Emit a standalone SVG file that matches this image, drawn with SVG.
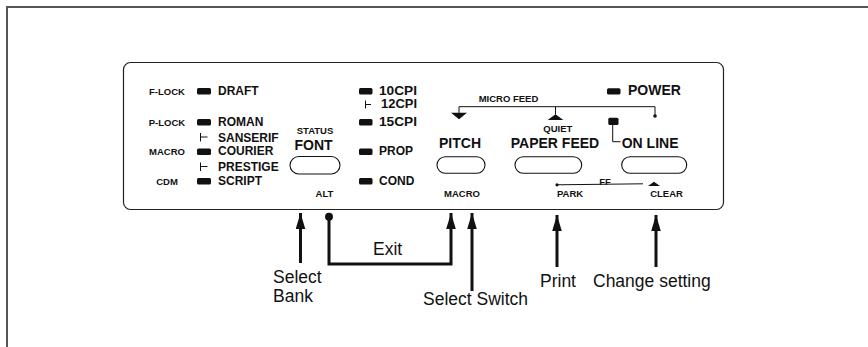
<svg xmlns="http://www.w3.org/2000/svg" width="868" height="347" viewBox="0 0 868 347">
<style>
.frame{fill:none;stroke:#555;stroke-width:2}
.panel{fill:#fff;stroke:#222;stroke-width:1.2}
.btn{fill:#fff;stroke:#111;stroke-width:1.1}
.led{fill:#111}
.s{font-family:"Liberation Sans",Arial,sans-serif;font-weight:bold;font-size:9.5px;fill:#111}
.m{font-family:"Liberation Sans",Arial,sans-serif;font-weight:bold;font-size:12px;fill:#111}
.b{font-family:"Liberation Sans",Arial,sans-serif;font-weight:bold;font-size:14px;fill:#111}
.l{font-family:"Liberation Sans",Arial,sans-serif;font-size:17.5px;fill:#111}
.thin{fill:none;stroke:#111;stroke-width:1}
.arr{fill:none;stroke:#111;stroke-width:3}
.tri{fill:#111}
</style>
<defs>
<marker id="ah" markerUnits="userSpaceOnUse" viewBox="0 -5 16 10" markerWidth="16" markerHeight="10" refX="16" refY="0" orient="auto">
<path d="M0,-4.8 L16,0 L0,4.8 Z" fill="#111"/>
</marker>
</defs>
<rect width="868" height="347" fill="#fff"/>
<path class="frame" d="M7,347 V7 H868"/>

<g id="panel">
<rect class="panel" x="123.5" y="62.5" width="600" height="147" rx="7"/>
</g>

<g id="bank-labels">
<text class="s" x="167" y="94.5" text-anchor="middle" font-size="10.5">F-LOCK</text>
<text class="s" x="167" y="125.5" text-anchor="middle" font-size="10.5">P-LOCK</text>
<text class="s" x="167" y="155" text-anchor="middle" font-size="10.5">MACRO</text>
<text class="s" x="167" y="184.5" text-anchor="middle" font-size="10.5">CDM</text>
</g>

<g id="font-leds">
<rect class="led" x="197" y="88" width="14" height="6.5" rx="1.5"/>
<rect class="led" x="197" y="119" width="14" height="6.5" rx="1.5"/>
<rect class="led" x="197" y="148.5" width="14" height="6.5" rx="1.5"/>
<rect class="led" x="197" y="178" width="14" height="6.5" rx="1.5"/>
<path class="thin" d="M200.5,133 V141.5 M200.5,137 H207.5 M200.5,162.5 V171 M200.5,166.5 H207.5"/>
<text class="m" x="218" y="94.5">DRAFT</text>
<text class="m" x="218" y="125.5">ROMAN</text>
<text class="m" x="218" y="141.5">SANSERIF</text>
<text class="m" x="218" y="155">COURIER</text>
<text class="m" x="218" y="171">PRESTIGE</text>
<text class="m" x="218" y="184.5">SCRIPT</text>
</g>

<g id="font-button">
<text class="s" x="315" y="134" text-anchor="middle">STATUS</text>
<text class="b" x="313.5" y="150" text-anchor="middle">FONT</text>
<rect class="btn" x="290" y="156.5" width="50" height="17.5" rx="8.75"/>
<text class="s" x="324.5" y="197" text-anchor="middle">ALT</text>
</g>

<g id="pitch-leds">
<rect class="led" x="359" y="88" width="13.5" height="6.5" rx="1.5"/>
<rect class="led" x="359" y="119" width="13.5" height="6.5" rx="1.5"/>
<rect class="led" x="359" y="148.5" width="13.5" height="6.5" rx="1.5"/>
<rect class="led" x="359" y="178" width="13.5" height="6.5" rx="1.5"/>
<path class="thin" d="M365.5,100.5 V108.5 M365.5,104.5 H371"/>
<text class="m" x="379" y="94.5" textLength="38" lengthAdjust="spacingAndGlyphs">10CPI</text>
<text class="m" x="381" y="108" textLength="36" lengthAdjust="spacingAndGlyphs">12CPI</text>
<text class="m" x="379" y="125.5" textLength="38" lengthAdjust="spacingAndGlyphs">15CPI</text>
<text class="m" x="379" y="155">PROP</text>
<text class="m" x="379" y="184.5">COND</text>
</g>

<g id="micro-feed">
<text class="s" x="508.5" y="101.7" text-anchor="middle">MICRO FEED</text>
<path class="thin" d="M459,113 V106.7 H655 V116 M555.5,106.7 V114.5"/>
<circle cx="655" cy="116" r="1.8" fill="#111"/>
<path class="tri" d="M451,112.7 H467 L459,119.3 Z"/>
<path class="tri" d="M547.7,120 H563.3 L555.5,114.3 Z"/>
</g>

<g id="pitch-button">
<text class="b" x="460" y="148.3" text-anchor="middle" font-size="15">PITCH</text>
<rect class="btn" x="437" y="156.7" width="48" height="16.6" rx="8.3"/>
<text class="s" x="462" y="197" text-anchor="middle">MACRO</text>
</g>

<g id="paper-feed-button">
<text class="s" x="557.8" y="131.7" text-anchor="middle">QUIET</text>
<text class="b" x="555" y="148.3" text-anchor="middle">PAPER FEED</text>
<rect class="btn" x="515" y="156.7" width="66.7" height="16.6" rx="8.3"/>
<text class="s" x="605" y="185" text-anchor="middle">FF</text>
<circle cx="557" cy="184.8" r="1.6" fill="#111"/>
<path class="thin" d="M557,184.8 L643,183.8"/>
<text class="s" x="570" y="197.3" text-anchor="middle">PARK</text>
</g>

<g id="power">
<rect class="led" x="607" y="88.3" width="13.5" height="6.3" rx="1.5"/>
<text class="b" x="628" y="95" font-size="14.5">POWER</text>
</g>

<g id="online-button">
<rect class="led" x="608.3" y="117.7" width="10.2" height="7.3" rx="1.5"/>
<path class="thin" d="M612.7,125 V141.7 H620.5"/>
<text class="b" x="621.7" y="148.3" font-size="15">ON LINE</text>
<rect class="btn" x="621.7" y="156.7" width="65" height="16.6" rx="8.3"/>
<path class="tri" d="M648,186 H660 L654,181.7 Z"/>
<text class="s" x="666.5" y="197" text-anchor="middle">CLEAR</text>
</g>

<g id="connectors">
<path class="arr" d="M300.5,263 V213" marker-end="url(#ah)"/>
<circle cx="329" cy="216.7" r="4" fill="#111"/>
<path class="arr" d="M329,217 V264 H451 V213" marker-end="url(#ah)"/>
<path class="arr" d="M472,291 V213" marker-end="url(#ah)"/>
<path class="arr" d="M557,267 V215" marker-end="url(#ah)"/>
<path class="arr" d="M656,267 V215" marker-end="url(#ah)"/>
</g>

<g id="labels">
<text class="l" x="373" y="255">Exit</text>
<text class="l" font-size="16.5"><tspan x="273" y="282.5">Select</tspan><tspan x="273" y="301.5">Bank</tspan></text>
<text class="l" x="423" y="305">Select Switch</text>
<text class="l" x="540" y="287">Print</text>
<text class="l" x="593" y="287">Change setting</text>
</g>
</svg>
